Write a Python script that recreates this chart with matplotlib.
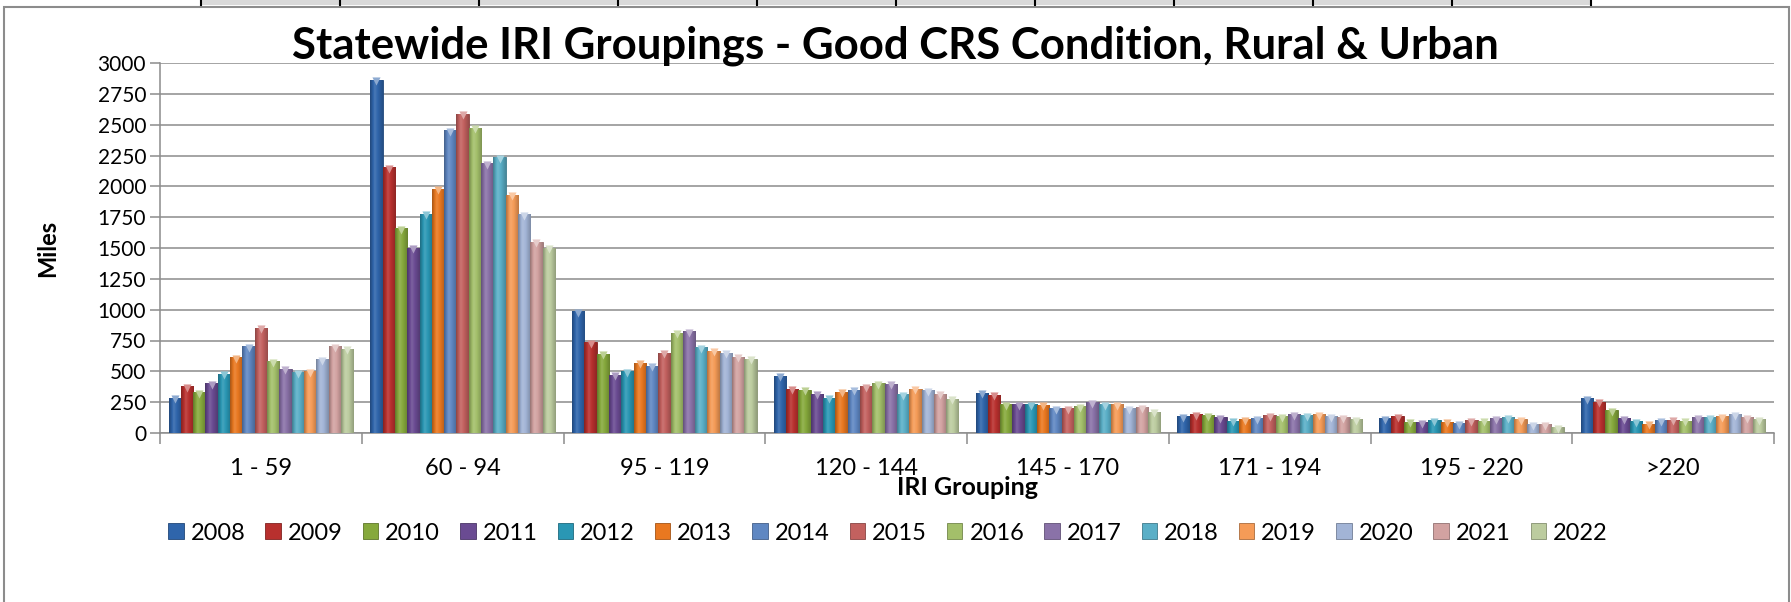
import numpy as np
import matplotlib
matplotlib.use("Agg")
import matplotlib.pyplot as plt
from matplotlib.patches import Patch, Rectangle
from matplotlib.lines import Line2D
from matplotlib.colors import to_rgb

plt.rcParams['font.family'] = ['Lato', 'DejaVu Sans']

groups = ['1 - 59', '60 - 94', '95 - 119', '120 - 144', '145 - 170',
          '171 - 194', '195 - 220', '>220']
years = ['2008', '2009', '2010', '2011', '2012', '2013', '2014', '2015',
         '2016', '2017', '2018', '2019', '2020', '2021', '2022']

# miles per year (2008..2022) for each IRI grouping
iri_1_59 = [287, 381, 332, 405, 481, 616, 703, 854, 584, 522, 495, 503, 597, 703, 684]
iri_60_94 = [2865, 2154, 1662, 1503, 1779, 1981, 2454, 2589, 2476, 2189, 2238, 1933, 1773, 1552, 1503]
iri_95_119 = [989, 738, 643, 473, 503, 570, 546, 651, 814, 823, 697, 668, 651, 619, 603]
iri_120_144 = [465, 360, 351, 319, 287, 335, 351, 378, 403, 400, 314, 360, 346, 319, 278]
iri_145_170 = [327, 311, 233, 233, 233, 231, 204, 204, 220, 250, 236, 236, 204, 212, 174]
iri_171_194 = [136, 155, 147, 131, 101, 115, 123, 147, 139, 155, 147, 155, 139, 128, 115]
iri_195_220 = [123, 139, 93, 90, 107, 93, 82, 107, 101, 123, 131, 115, 74, 72, 50]
iri_over_220 = [285, 255, 188, 123, 99, 77, 107, 109, 101, 131, 126, 139, 155, 131, 115]

colors = ['#2f65ab', '#b8302e', '#86a93c', '#6a4b92', '#2a97b4', '#e97820',
          '#5f87c2', '#c3615f', '#a3bf6a', '#8a72a8', '#5aafc7', '#f59b57',
          '#a2b4d6', '#d2a2a1', '#bccc9f']

miles = np.array([iri_1_59, iri_60_94, iri_95_119, iri_120_144,
                  iri_145_170, iri_171_194, iri_195_220, iri_over_220]).T

fig = plt.figure(figsize=(17.91, 6.02), dpi=100)
ax = fig.add_axes([160 / 1791, 1 - 433 / 602, (1774 - 160) / 1791, 370 / 602])

x = np.arange(len(groups))
w = 0.061
grid_col = '#8c8c8c'


def shade(c, f):
    r = np.array(to_rgb(c))
    if f >= 1:
        return r + (1 - r) * (f - 1)
    return r * f


prof = np.concatenate([np.linspace(0.72, 1.12, 12), np.linspace(1.12, 0.78, 20)])
for j, yr in enumerate(years):
    bars = ax.bar(x + (j - 7) * w, miles[j], width=w, color=colors[j],
                  edgecolor=shade(colors[j], 0.7), linewidth=0.6, zorder=3)
    grad = np.array([[shade(colors[j], f) for f in prof]])
    for b in bars:
        bx, by = b.get_x(), b.get_y()
        im = ax.imshow(grad, extent=(bx, bx + b.get_width(), by, by + b.get_height()),
                       aspect='auto', zorder=3.5, interpolation='bilinear')
        im.set_clip_path(b)
    ax.scatter(x + (j - 7) * w, miles[j] - 14, marker='v', s=34,
               color=shade(colors[j], 1.45), linewidths=0, zorder=4)

ax.set_xlim(-0.5, len(groups) - 0.5)
ax.set_ylim(0, 3000)
ax.set_yticks(np.arange(0, 3001, 250))
ax.yaxis.grid(True, color=grid_col, linewidth=1.1, zorder=0)
ax.set_axisbelow(True)

ax.set_xticks(np.arange(-0.5, len(groups)), minor=False)
ax.set_xticklabels([])
ax.set_xticks(x, minor=True)
ax.set_xticklabels(groups, minor=True)
ax.tick_params(axis='x', which='major', length=8, width=1.1, color=grid_col, direction='out')
ax.tick_params(axis='x', which='minor', length=0, pad=18, labelsize=17)
ax.tick_params(axis='y', length=7, width=1.1, color=grid_col, labelsize=15, pad=3)

for s in ['top', 'right']:
    ax.spines[s].set_visible(False)
for s in ['left', 'bottom']:
    ax.spines[s].set_color(grid_col)
    ax.spines[s].set_linewidth(1.1)

ax.set_ylabel('Miles', fontsize=17, fontweight='bold', labelpad=28)
ax.set_xlabel('IRI Grouping', fontsize=18, fontweight='bold', labelpad=-2)

fig.text(0.5, 1 - 46 / 602, 'Statewide IRI Groupings - Good CRS Condition, Rural & Urban',
         ha='center', va='center', fontsize=31.5, fontweight='bold')

handles = [Patch(facecolor=c, edgecolor=shade(c, 0.7), linewidth=0.6) for c in colors]
fig.legend(handles, years, loc='center', bbox_to_anchor=(888 / 1791, 1 - 533 / 602),
           ncol=len(years), frameon=False, fontsize=17, handlelength=0.65,
           handleheight=0.65, handletextpad=0.3, columnspacing=0.85)

# chart frame and spreadsheet header strip
fig.patches.append(Rectangle((4 / 1791, -0.05), 1785 / 1791, 1.05 - 7 / 602,
                             transform=fig.transFigure, fill=False,
                             edgecolor='#8c8c8c', linewidth=1.5))
fig.patches.append(Rectangle((201 / 1791, 1 - 5 / 602), (1592 - 201) / 1791, 5 / 602,
                             transform=fig.transFigure, facecolor='#d9d9d9',
                             edgecolor='none'))
for px in np.arange(201, 1600, 139):
    fig.lines.append(Line2D([px / 1791, px / 1791], [1 - 5 / 602, 1],
                            transform=fig.transFigure, color='black', linewidth=1.5))

fig.savefig('out.png', dpi=100)
